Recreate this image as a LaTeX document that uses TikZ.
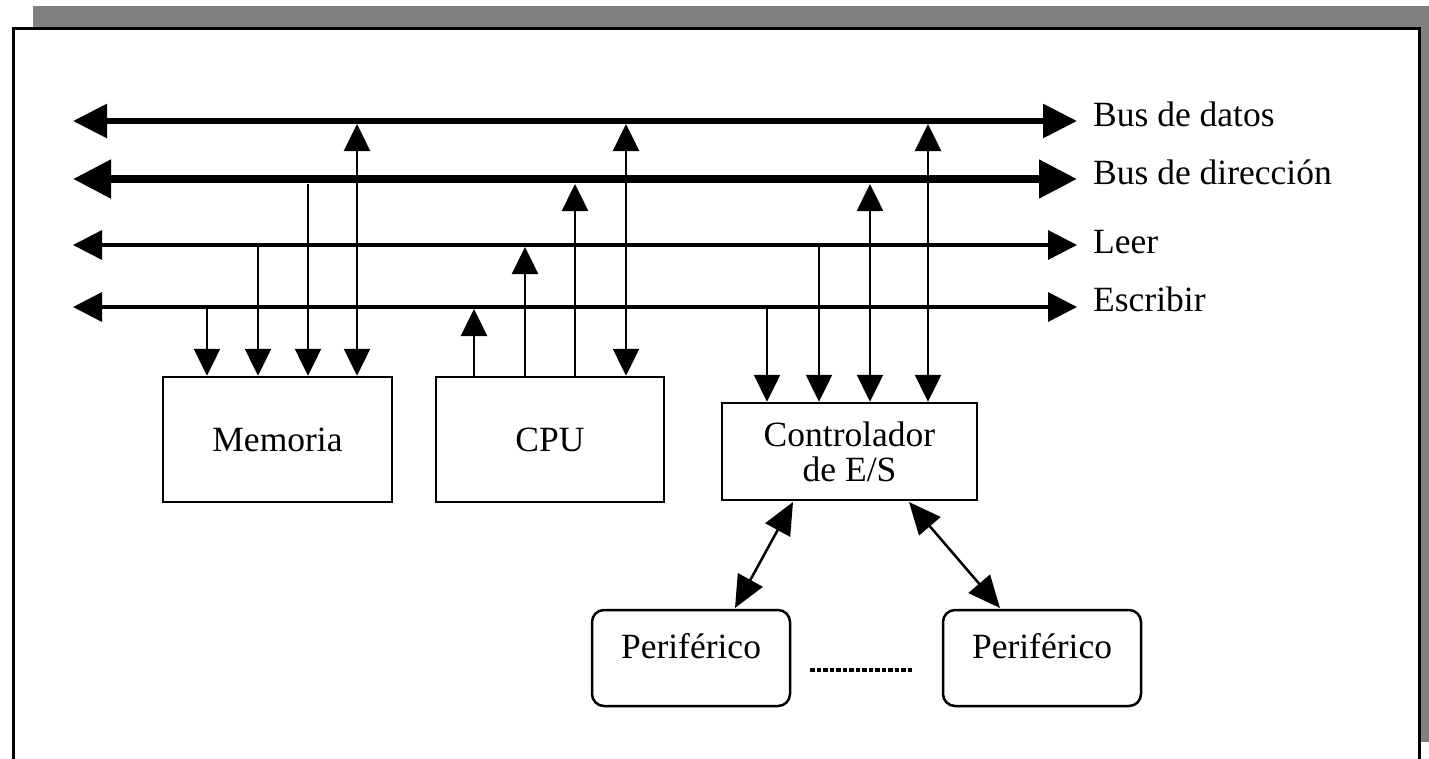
\documentclass[tikz,border=0pt]{standalone}
\usepackage{fontspec}
\setmainfont{Liberation Serif}
\usetikzlibrary{arrows.meta}
\begin{document}
\begin{tikzpicture}[x=1pt,y=-1pt,
  every node/.style={font=\fontsize{35.5}{35}\selectfont},
  >={Triangle[length=27pt,width=26pt]},
  databus/.style={line width=6pt,{Triangle[length=34pt,width=33pt]}-{Triangle[length=34pt,width=33pt]}},
  addrbus/.style={line width=8pt,{Triangle[length=38pt,width=37pt]}-{Triangle[length=38pt,width=37pt]}},
  ctlbus/.style={line width=3.5pt,{Triangle[length=29pt,width=29pt]}-{Triangle[length=29pt,width=29pt]}},
  tap/.style={line width=2.5pt},
  link/.style={line width=2.5pt,{Triangle[length=32pt,width=28pt]}-{Triangle[length=32pt,width=28pt]}},
  unit/.style={draw,line width=2.5pt,align=center,inner sep=0pt},
  periph/.style={unit,rounded corners=12pt,minimum width=198pt,minimum height=96pt,
                 text height=12pt,text depth=12pt},
  buslabel/.style={anchor=base west,inner sep=0pt}
]
\useasboundingbox (0,0) rectangle (1429,758);

% page frame with its shadow
\fill[black!50] (33,6) rectangle (1429,742);
\draw[line width=3pt,fill=white] (13.5,28.5) rectangle (1419.5,800);

% buses
\coordinate (dL) at (73,121);  \coordinate (dR) at (1077,121);
\coordinate (aL) at (73,179);  \coordinate (aR) at (1077,179);
\coordinate (rL) at (73,245);  \coordinate (rR) at (1077,245);
\coordinate (wL) at (73,307);  \coordinate (wR) at (1077,307);
\draw[databus] (dL) -- (dR);
\draw[addrbus] (aL) -- (aR);
\draw[ctlbus] (rL) -- (rR);
\draw[ctlbus] (wL) -- (wR);

\node[buslabel] (ldat) at (1093,126) {Bus de datos};
\node[buslabel] (ldir) at (1093,184) {Bus de dirección};
\node[buslabel] (lrd)  at (1093,253) {Leer};
\node[buslabel] (lwr)  at (1093,311) {Escribir};

% units
\node[unit,minimum width=229pt,minimum height=125pt] (mem) at (277.5,439.5) {Memoria};
\node[unit,minimum width=228pt,minimum height=125pt] (cpu) at (550,439.5) {CPU};
\node[unit,minimum width=255pt,minimum height=97pt] (ctl) at (849.5,451.5) {Controlador\\de E/S};
\node[periph] (p1) at (691,658) {Periférico};
\node[periph] (p2) at (1042,658) {Periférico};

% taps on the buses
\coordinate (m1) at (207,309); \coordinate (m2) at (258,247);
\coordinate (m3) at (308,184); \coordinate (m4) at (357,124);
\coordinate (c1) at (474,309); \coordinate (c2) at (525,247);
\coordinate (c3) at (575,184); \coordinate (c4) at (626,124);
\coordinate (k1) at (767,309); \coordinate (k2) at (819,247);
\coordinate (k3) at (870,184); \coordinate (k4) at (928,124);

% memory
\draw[tap,->] (m1) -- (m1 |- mem.north);
\draw[tap,->] (m2) -- (m2 |- mem.north);
\draw[tap,->] (m3) -- (m3 |- mem.north);
\draw[tap,<->] (m4) -- (m4 |- mem.north);
% processor
\draw[tap,->] (c1 |- cpu.north) -- (c1);
\draw[tap,->] (c2 |- cpu.north) -- (c2);
\draw[tap,->] (c3 |- cpu.north) -- (c3);
\draw[tap,<->] (c4) -- (c4 |- cpu.north);
% I/O controller
\draw[tap,->] (k1) -- (k1 |- ctl.north);
\draw[tap,->] (k2) -- (k2 |- ctl.north);
\draw[tap,<->] (k3) -- (k3 |- ctl.north);
\draw[tap,<->] (k4) -- (k4 |- ctl.north);

% controller to peripherals
\coordinate (e1) at (793,502); \coordinate (f1) at (735,608);
\coordinate (e2) at (909,502); \coordinate (f2) at (1000,608);
\draw[link] (e1) -- (f1);
\draw[link] (e2) -- (f2);

% more peripherals
\coordinate (g1) at (810,670); \coordinate (g2) at (914,670);
\draw[line width=4.5pt,dash pattern=on 4.5pt off 2pt] (g1) -- (g2);
\end{tikzpicture}
\end{document}
